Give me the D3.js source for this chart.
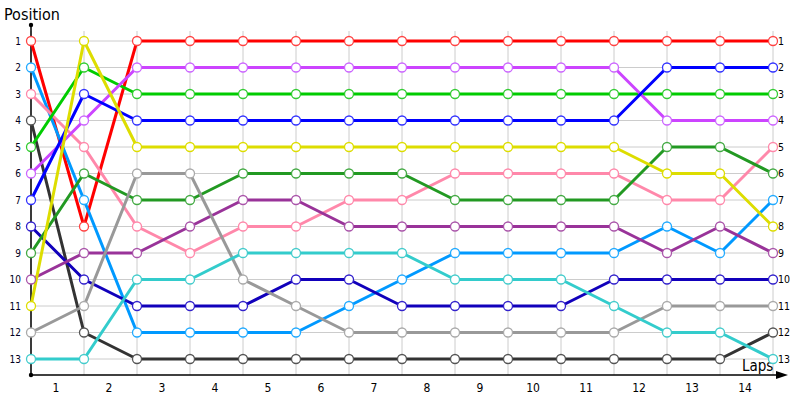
<!DOCTYPE html>
<html><head><meta charset="utf-8">
<script src="https://cdn.jsdelivr.net/npm/d3@7/dist/d3.min.js"></script>
<style>body{margin:0;background:#fff;} svg{display:block;font-family:"DejaVu Sans Condensed","DejaVu Sans",sans-serif;}</style>
</head><body><svg id="c" width="800" height="400"></svg>
<script>
const laps = [0,1,2,3,4,5,6,7,8,9,10,11,12,13,14];
const lapLabels = ["1","2","3","4","5","6","7","8","9","10","11","12","13","14"];
const positionTicks = [1,2,3,4,5,6,7,8,9,10,11,12,13];

const redSeries       = [1,8,1,1,1,1,1,1,1,1,1,1,1,1,1];
const lightBlueSeries = [2,7,12,12,12,12,11,10,9,9,9,9,8,9,7];
const pinkSeries      = [3,5,8,9,8,8,7,7,6,6,6,6,7,7,5];
const blackSeries     = [4,12,13,13,13,13,13,13,13,13,13,13,13,13,12];
const greenSeries     = [5,2,3,3,3,3,3,3,3,3,3,3,3,3,3];
const violetSeries    = [6,4,2,2,2,2,2,2,2,2,2,2,4,4,4];
const blueSeries      = [7,3,4,4,4,4,4,4,4,4,4,4,2,2,2];
const navySeries      = [8,10,11,11,11,10,10,11,11,11,11,10,10,10,10];
const darkGreenSeries = [9,6,7,7,6,6,6,6,7,7,7,7,5,5,6];
const purpleSeries    = [10,9,9,8,7,7,8,8,8,8,8,8,9,8,9];
const yellowSeries    = [11,1,5,5,5,5,5,5,5,5,5,5,6,6,8];
const graySeries      = [12,11,6,6,10,11,12,12,12,12,12,12,11,11,11];
const tealSeries      = [13,13,10,10,9,9,9,9,10,10,10,11,12,12,13];

const series = [
  {v: redSeries, c: "#ff0000", m: "#ff4444"},
  {v: lightBlueSeries, c: "#0099ff", m: "#22aaff"},
  {v: pinkSeries, c: "#ff88aa", m: "#ff88aa"},
  {v: blackSeries, c: "#333333", m: "#555555"},
  {v: greenSeries, c: "#00cc00", m: "#33cc33"},
  {v: violetSeries, c: "#cc44ff", m: "#cc66ff"},
  {v: blueSeries, c: "#0000ff", m: "#3333ff"},
  {v: navySeries, c: "#1100bb", m: "#3322cc"},
  {v: darkGreenSeries, c: "#229922", m: "#44aa44"},
  {v: purpleSeries, c: "#993399", m: "#aa55aa"},
  {v: yellowSeries, c: "#dddd00", m: "#dddd00"},
  {v: graySeries, c: "#999999", m: "#aaaaaa"},
  {v: tealSeries, c: "#33cccc", m: "#44cccc"}
];

const FONT = "'DejaVu Sans Condensed','DejaVu Sans',sans-serif";
const svg = d3.select("#c");
const x = d3.scaleLinear().domain([0,14]).range([31,773]);
const y = d3.scaleLinear().domain([1,13]).range([41,359]);

// grid
const g = svg.append("g");
g.selectAll("line.h").data(positionTicks).join("line")
  .attr("x1", x(0)).attr("x2", x(14))
  .attr("y1", d=>y(d)).attr("y2", d=>y(d))
  .attr("stroke","#cccccc").attr("stroke-width",1);
g.selectAll("line.v").data(laps).join("line")
  .attr("x1", d=>x(d)).attr("x2", d=>x(d))
  .attr("y1", 31).attr("y2", 375)
  .attr("stroke","#cccccc").attr("stroke-width",1);

// axes lines
svg.append("line").attr("x1",31).attr("x2",31).attr("y1",25).attr("y2",375).attr("stroke","#000").attr("stroke-width",1.5);
svg.append("line").attr("x1",31).attr("x2",780).attr("y1",375).attr("y2",375).attr("stroke","#000").attr("stroke-width",1.5);
svg.append("circle").attr("cx",31).attr("cy",25).attr("r",2.2).attr("fill","#000");
svg.append("circle").attr("cx",31).attr("cy",375).attr("r",2.2).attr("fill","#000");
svg.append("path").attr("d","M776,371 L788,375 L776,379 Z").attr("fill","#000");

// x axis labels via d3 axis
const xAxis = d3.axisBottom(x).tickValues(lapLabels.map((d,i)=>i+0.5)).tickSize(0).tickPadding(8)
  .tickFormat((d,i)=>lapLabels[i]);
const xa = svg.append("g").attr("transform","translate(-2,375)").call(xAxis);
xa.select(".domain").remove();
xa.selectAll("text").attr("font-size",12).attr("fill","#000").attr("font-family",FONT);

// y axis labels
const yAxis = d3.axisLeft(y).tickValues(positionTicks).tickSize(0).tickPadding(10).tickFormat(d3.format("d"));
const ya = svg.append("g").attr("transform","translate(31,0)").call(yAxis);
ya.select(".domain").remove();
ya.selectAll("text").attr("font-size",10).attr("fill","#000022").attr("font-family",FONT);

// right labels
svg.append("g").selectAll("text").data(series).join("text")
  .attr("x", x(14)+5).attr("y", d=>y(d.v[14])).attr("dy","0.35em")
  .attr("font-size", 10.5).attr("fill","#000").attr("font-family",FONT)
  .text(d=>d.v[14]);

// titles
svg.append("text").attr("x",4).attr("y",20).attr("font-size",16).attr("fill","#000").attr("font-family",FONT).text("Position");
svg.append("text").attr("x",742).attr("y",371).attr("font-size",15).attr("fill","#000").attr("font-family",FONT).text("Laps");

// lines
const line = d3.line().x((d,i)=>x(laps[i])).y(d=>y(d));
svg.append("g").selectAll("path").data(series).join("path")
  .attr("d", d=>line(d.v)).attr("fill","none").attr("stroke", d=>d.c).attr("stroke-width",3)
  .attr("stroke-linejoin","round");

// markers
series.forEach(s=>{
  svg.append("g").selectAll("circle").data(s.v).join("circle")
    .attr("cx",(d,i)=>x(laps[i])).attr("cy",d=>y(d)).attr("r",4.5)
    .attr("fill","#fff").attr("stroke",s.m).attr("stroke-width",1.3);
});
</script></body></html>
